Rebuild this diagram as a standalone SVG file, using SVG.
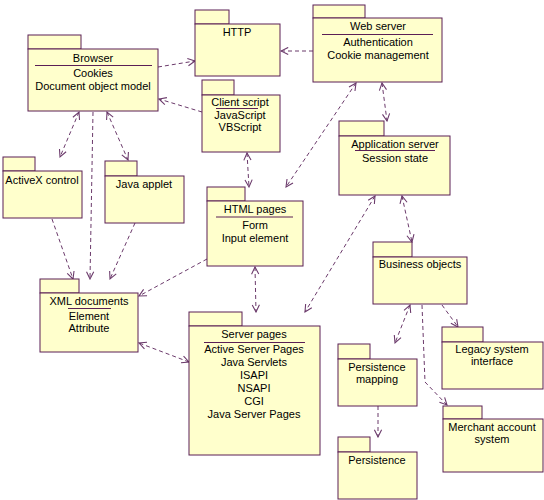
<svg xmlns="http://www.w3.org/2000/svg" width="544" height="500" viewBox="0 0 544 500">
<defs>
<style>
.pk rect{fill:#ffffcc;stroke:#5a1f55;stroke-width:1}
.pk text{font-family:"Liberation Sans",Arial,sans-serif;font-size:11px;fill:#000;text-anchor:middle}
.pk line{stroke:#5a1f55;stroke-width:1}
#edges path{fill:none;stroke:#6b3a6b;stroke-width:1;stroke-dasharray:4,3}
</style>
<marker id="ah" viewBox="0 0 10 10" refX="9" refY="5" markerWidth="9" markerHeight="9" markerUnits="userSpaceOnUse" orient="auto-start-reverse">
<path d="M1,1 L9,5 L1,9" fill="none" stroke="#6b3a6b" stroke-width="1.2"/>
</marker>
</defs>
<rect width="544" height="500" fill="#fff"/>

<g id="edges">
<path d="M158,67 L195,61" marker-end="url(#ah)"/>
<path d="M202,112 L159,99" marker-end="url(#ah)"/>
<path d="M313,51 L281,51" marker-end="url(#ah)"/>
<path d="M79,112 L60,157" marker-start="url(#ah)" marker-end="url(#ah)"/>
<path d="M93,112 L90,279" marker-end="url(#ah)"/>
<path d="M107,112 L128,160" marker-start="url(#ah)" marker-end="url(#ah)"/>
<path d="M52,219 L73,279" marker-end="url(#ah)"/>
<path d="M135,223 L110,279" marker-end="url(#ah)"/>
<path d="M247,153 L249,187" marker-start="url(#ah)" marker-end="url(#ah)"/>
<path d="M356,83 L286,187" marker-start="url(#ah)" marker-end="url(#ah)"/>
<path d="M382,83 L387,121" marker-start="url(#ah)" marker-end="url(#ah)"/>
<path d="M207,259 L139,296" marker-end="url(#ah)"/>
<path d="M255,267 L256,312" marker-start="url(#ah)" marker-end="url(#ah)"/>
<path d="M375,196 L305,312" marker-start="url(#ah)" marker-end="url(#ah)"/>
<path d="M402,196 L412,242" marker-start="url(#ah)" marker-end="url(#ah)"/>
<path d="M189,362 L139,343" marker-start="url(#ah)" marker-end="url(#ah)"/>
<path d="M410,305 L395,343" marker-start="url(#ah)" marker-end="url(#ah)"/>
<path d="M422,305 L425,382 L447,405" marker-end="url(#ah)"/>
<path d="M442,305 L458,327" marker-end="url(#ah)"/>
<path d="M378,406 L378,437" marker-end="url(#ah)"/>
</g>

<g id="browser" class="pk">
<rect x="28" y="35" width="53" height="14"/>
<rect x="28" y="49" width="130" height="62"/>
<text x="93" y="62">Browser</text>
<line x1="35" y1="65.5" x2="152" y2="65.5"/>
<text x="93" y="77">Cookies</text>
<text x="93" y="90">Document object model</text>
</g>

<g id="http" class="pk">
<rect x="195" y="10" width="34" height="14"/>
<rect x="195" y="24" width="85" height="52"/>
<text x="237" y="36">HTTP</text>
</g>

<g id="webserver" class="pk">
<rect x="313" y="5" width="52" height="13"/>
<rect x="313" y="18" width="129" height="64"/>
<text x="378" y="30">Web server</text>
<line x1="322" y1="34.5" x2="433" y2="34.5"/>
<text x="378" y="46">Authentication</text>
<text x="378" y="59">Cookie management</text>
</g>

<g id="clientscript" class="pk">
<rect x="202" y="80" width="32" height="15"/>
<rect x="202" y="95" width="78" height="57"/>
<text x="240" y="106">Client script</text>
<line x1="216" y1="108.5" x2="258" y2="108.5"/>
<text x="240" y="119">JavaScript</text>
<text x="240" y="131">VBScript</text>
</g>

<g id="appserver" class="pk">
<rect x="339" y="121" width="45" height="15"/>
<rect x="339" y="136" width="111" height="59"/>
<text x="395" y="148">Application server</text>
<line x1="355" y1="150.5" x2="435" y2="150.5"/>
<text x="395" y="162">Session state</text>
</g>

<g id="activex" class="pk">
<rect x="3" y="157" width="32" height="14"/>
<rect x="3" y="171" width="79" height="47"/>
<text x="42" y="184">ActiveX control</text>
</g>

<g id="javaapplet" class="pk">
<rect x="105" y="161" width="32" height="15"/>
<rect x="105" y="176" width="79" height="47"/>
<text x="144" y="188">Java applet</text>
</g>

<g id="htmlpages" class="pk">
<rect x="207" y="187" width="38" height="14"/>
<rect x="207" y="201" width="96" height="65"/>
<text x="255" y="213">HTML pages</text>
<line x1="216" y1="217" x2="293" y2="217"/>
<text x="255" y="229">Form</text>
<text x="255" y="242">Input element</text>
</g>

<g id="xmldocs" class="pk">
<rect x="40" y="279" width="39" height="14"/>
<rect x="40" y="293" width="98" height="59"/>
<text x="89" y="305">XML documents</text>
<line x1="68" y1="308.5" x2="111" y2="308.5"/>
<text x="89" y="320">Element</text>
<text x="89" y="332">Attribute</text>
</g>

<g id="serverpages" class="pk">
<rect x="189" y="312" width="53" height="14"/>
<rect x="189" y="326" width="131" height="129"/>
<text x="254" y="338">Server pages</text>
<line x1="204" y1="342.5" x2="305" y2="342.5"/>
<text x="254" y="353">Active Server Pages</text>
<text x="254" y="366">Java Servlets</text>
<text x="254" y="379">ISAPI</text>
<text x="254" y="392">NSAPI</text>
<text x="254" y="405">CGI</text>
<text x="254" y="418">Java Server Pages</text>
</g>

<g id="businessobjects" class="pk">
<rect x="373" y="242" width="39" height="15"/>
<rect x="373" y="257" width="94" height="47"/>
<text x="420" y="268">Business objects</text>
</g>

<g id="persistencemapping" class="pk">
<rect x="338" y="344" width="32" height="15"/>
<rect x="338" y="359" width="79" height="47"/>
<text x="377" y="371">Persistence</text>
<text x="377" y="383">mapping</text>
</g>

<g id="persistence" class="pk">
<rect x="338" y="437" width="32" height="15"/>
<rect x="338" y="452" width="79" height="47"/>
<text x="377" y="464">Persistence</text>
</g>

<g id="legacy" class="pk">
<rect x="442" y="327" width="41" height="15"/>
<rect x="442" y="342" width="101" height="47"/>
<text x="492" y="353">Legacy system</text>
<text x="492" y="365">interface</text>
</g>

<g id="merchant" class="pk">
<rect x="443" y="406" width="39" height="13"/>
<rect x="443" y="419" width="100" height="53"/>
<text x="492" y="431">Merchant account</text>
<text x="492" y="443">system</text>
</g>
</svg>
